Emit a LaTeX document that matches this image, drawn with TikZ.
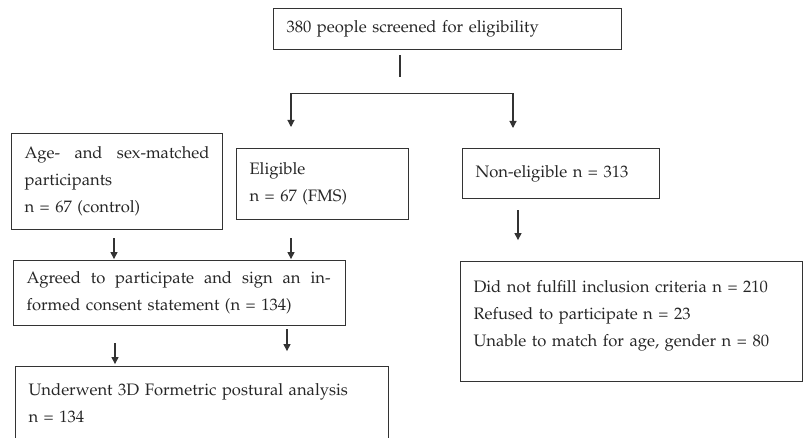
\documentclass[tikz,border=0pt]{standalone}
\usepackage[T1]{fontenc}
\usepackage{mathpazo}
\usepackage{tikz}
\usetikzlibrary{arrows.meta,calc}

\begin{document}
\begin{tikzpicture}[x=1pt,y=-1pt,
  box/.style={draw=black!80, line width=1.1pt, anchor=north west, align=left,
    inner xsep=13pt, inner ysep=0pt, font=\fontsize{16.6}{27}\selectfont, text=black!85},
  arr/.style={draw=black!80, line width=1.1pt, -{Triangle[length=7pt,width=7pt]}}]
\useasboundingbox (0,0) rectangle (803,438);
\clip (0,0) rectangle (803,438);

\node[box, text width=322pt, minimum height=41pt] (screen) at (273,8) {380 people screened for eligibility};
\node[box, text width=185pt, minimum height=96pt] (ctrl) at (11,133) {\hbox to 185pt{Age-\hfil\ and\hfil\ sex-matched}\\participants\\n = 67 (control)};
\node[box, text width=146pt, minimum height=71pt] (elig) at (236,148) {Eligible\\n = 67 (FMS)};
\node[box, text width=171pt, minimum height=50pt] (nonelig) at (462,148) {Non-eligible n = 313};
\node[box, text width=306pt, minimum height=65pt] (agree) at (13,260) {\hbox to 304pt{Agreed\hfil\ to\hfil\ participate\hfil\ and\hfil\ sign\hfil\ an\hfil\ in-}\\formed consent statement (n = 134)};
\node[box, text width=347pt, minimum height=74pt] (under) at (15,366) {\mbox{Underwent 3D Formetric postural analysis}\\n = 134};
\node[box, text width=316pt, minimum height=120pt] (excl) at (460,261) {Did not fulfill inclusion criteria n = 210\\Refused to participate n = 23\\Unable to match for age, gender n = 80\par\vspace{12pt}};

% split below screening
\draw[draw=black!80, line width=1.1pt] ($(screen.south west)+(127,5)$) -- ++(0,22);
\coordinate (fork) at ($(screen.south west)+(127,43)$);
\draw[arr] (fork) -| ($(elig.north west)+(55,-21)$);
\draw[arr] (fork) -| ($(nonelig.north west)+(51,-20)$);
\draw[arr] ($(nonelig.south west)+(56,11)$) -- ++(0,30);

\draw[arr] ($(ctrl.south west)+(103,8)$) -- ++(0,21);
\draw[arr] ($(elig.south west)+(55,18)$) -- ++(0,21);
\draw[arr] ($(agree.south west)+(102,17)$) -- ++(0,21);
\draw[arr] ($(agree.south west)+(274,3)$) -- ++(0,22);
\end{tikzpicture}
\end{document}
